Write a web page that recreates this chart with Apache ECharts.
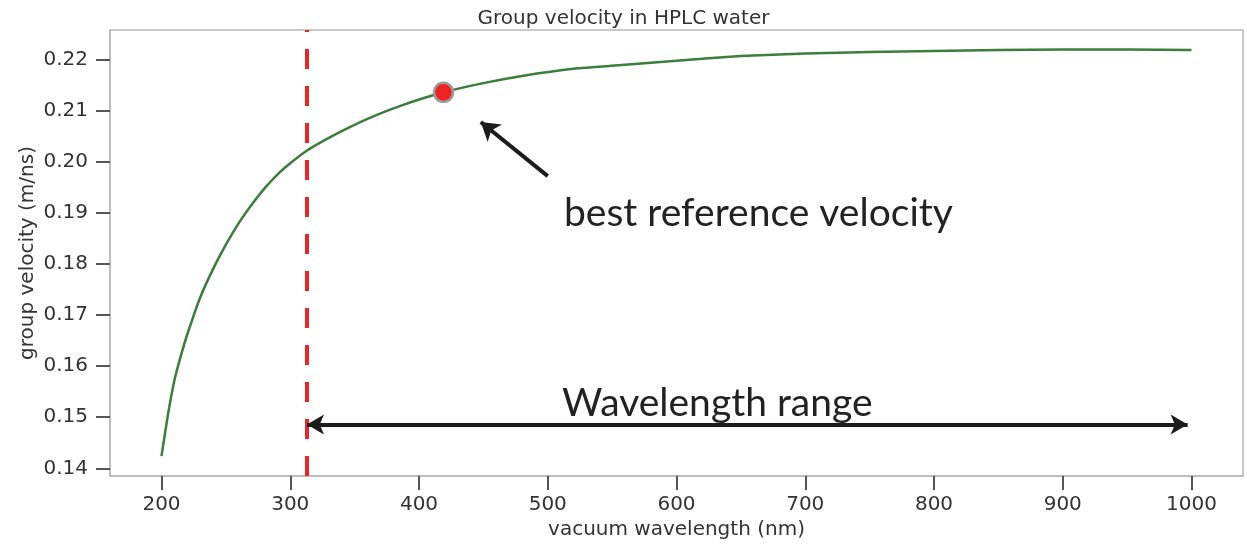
<!DOCTYPE html>
<html>
<head>
<meta charset="utf-8">
<script src="https://cdn.jsdelivr.net/npm/echarts@6/dist/echarts.min.js"></script>
<style>
    html, body { margin: 0; padding: 0; background: #fff; }
    #chart { width: 1247px; height: 545px; }
</style>
</head>
<body>
<div id="chart"></div>
<script>
// wavelengths (nm) and group velocity (m/ns)
const wavelengths = [200, 205, 210, 215, 220, 230, 240, 250, 260, 270, 280, 290, 300, 313, 325, 340, 360, 385, 419, 450, 480, 520, 560, 600, 650, 700, 750, 800, 850, 900, 950, 1000];
const velocities = [0.1424, 0.1505, 0.1572, 0.1620, 0.1662, 0.1734, 0.1790, 0.1838, 0.1880, 0.1916, 0.1948, 0.1975, 0.1997, 0.2022, 0.2040, 0.2060, 0.2084, 0.2109, 0.2136, 0.2154, 0.2168, 0.2182, 0.2190, 0.2198, 0.2207, 0.2212, 0.2215, 0.2217, 0.2219, 0.2220, 0.2220, 0.2219];

const xTicks = [200, 300, 400, 500, 600, 700, 800, 900, 1000];
const yTicks = [0.14, 0.15, 0.16, 0.17, 0.18, 0.19, 0.20, 0.21, 0.22];

// annotations
const cutoffWavelength = 313;
const bestPoint = [419, 0.2136];
const rangeArrow = [[313, 0.1486], [997, 0.1486]];
const pointerArrow = [[500, 0.1972], [448, 0.2078]];

const curve = wavelengths.map((w, i) => [w, velocities[i]]);

const chart = echarts.init(document.getElementById('chart'));

const tickFont = { fontFamily: 'DejaVu Sans', fontSize: 20, color: '#333' };
const nameFont = { fontFamily: 'DejaVu Sans', fontSize: 20, color: '#333' };

chart.setOption({
    animation: false,
    title: {
        text: 'Group velocity in HPLC water',
        left: 'center',
        top: 4,
        textStyle: { fontFamily: 'DejaVu Sans', fontSize: 20, fontWeight: 'normal', color: '#333' }
    },
    grid: {
        left: 110, right: 4, top: 30, bottom: 63,
        show: true, borderColor: '#b8b8b8', borderWidth: 1.5
    },
    xAxis: {
        type: 'value',
        min: 160, max: 1040,
        name: 'vacuum wavelength (nm)',
        nameLocation: 'middle',
        nameGap: 44,
        nameMoveOverlap: false,
        nameTextStyle: nameFont,
        axisLine: { lineStyle: { color: '#b8b8b8', width: 1.5 } },
        axisTick: { show: true, customValues: xTicks, length: 14, lineStyle: { color: '#555', width: 2 } },
        axisLabel: Object.assign({ customValues: xTicks, margin: 19, formatter: v => String(v) }, tickFont),
        splitLine: { show: false }
    },
    yAxis: {
        type: 'value',
        min: 0.1385, max: 0.2258,
        name: 'group velocity (m/ns)',
        nameLocation: 'middle',
        nameGap: 72,
        nameMoveOverlap: false,
        nameTextStyle: nameFont,
        axisLine: { show: true, lineStyle: { color: '#b8b8b8', width: 1.5 } },
        axisTick: { show: true, customValues: yTicks, length: 14, lineStyle: { color: '#555', width: 2 } },
        axisLabel: Object.assign({ customValues: yTicks, margin: 22, formatter: v => v.toFixed(2) }, tickFont),
        splitLine: { show: false }
    },
    series: [
        {
            type: 'line',
            data: curve,
            smooth: 0.15,
            showSymbol: false,
            lineStyle: { color: '#3b7d3b', width: 2.5, join: 'round' },
            markLine: {
                silent: true,
                symbol: 'none',
                label: { show: false },
                data: [
                    {
                        xAxis: cutoffWavelength,
                        lineStyle: { color: '#ee2424', width: 4, type: [20, 17] }
                    },
                    [
                        { coord: rangeArrow[0], symbol: 'arrow', symbolSize: [15, 17] },
                        { coord: rangeArrow[1], symbol: 'arrow', symbolSize: [15, 17] }
                    ],
                    [
                        { coord: pointerArrow[0], symbol: 'none' },
                        { coord: pointerArrow[1], symbol: 'arrow', symbolSize: [17, 18] }
                    ]
                ],
                lineStyle: { color: '#1c1c1c', width: 4, type: 'solid' }
            }
        },
        {
            type: 'scatter',
            data: [bestPoint],
            symbolSize: 19,
            itemStyle: { color: '#ee2222', opacity: 1, borderColor: '#9a9a9a', borderWidth: 2.5 },
            z: 5
        }
    ],
    graphic: [
        {
            type: 'text',
            left: 564, top: 194,
            style: { text: 'best reference velocity', fontFamily: 'Lato', fontSize: 39, fill: '#222' }
        },
        {
            type: 'text',
            left: 562, top: 384,
            style: { text: 'Wavelength range', fontFamily: 'Lato', fontSize: 39, fill: '#222' }
        }
    ]
});
</script>
</body>
</html>
